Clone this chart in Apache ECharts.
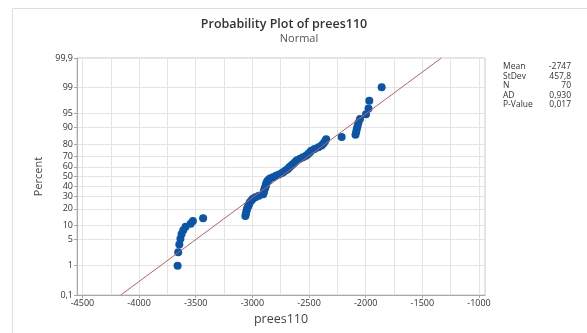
<!DOCTYPE html>
<html>
<head>
<meta charset="utf-8">
<script src="https://cdn.jsdelivr.net/npm/echarts@6/dist/echarts.min.js"></script>
<style>
  html, body { margin: 0; padding: 0; background: #fff; }
  #chart { width: 587px; height: 333px; }
</style>
</head>
<body>
<div id="chart"></div>
<script>
// sorted sample values (n = 70)
const prees110 = [
  -3660, -3655, -3645, -3635, -3625, -3610, -3590, -3545, -3525, -3435,
  -3062, -3057, -3053, -3049, -3042, -3035, -3029, -3022, -3009, -2996,
  -2973, -2943, -2905, -2901, -2898, -2894, -2890, -2885, -2881, -2878,
  -2875, -2868, -2859, -2845, -2819, -2792, -2766, -2739, -2722, -2704,
  -2686, -2676, -2663, -2649, -2633, -2620, -2607, -2580, -2554, -2527,
  -2510, -2494, -2481, -2452, -2417, -2390, -2373, -2360, -2349, -2212,
  -2090, -2084, -2079, -2072, -2064, -2050, -1997, -1975, -1968, -1859
];
const percentTicks = [0.1, 1, 5, 10, 20, 30, 40, 50, 60, 70, 80, 90, 95, 99, 99.9];
const percentLabels = ['0,1', '1', '5', '10', '20', '30', '40', '50', '60', '70', '80', '90', '95', '99', '99,9'];
const xTicks = [-4500, -4000, -3500, -3000, -2500, -2000, -1500, -1000];
const xHalfTicks = [-4250, -3750, -3250, -2750, -2250, -1750, -1250];
const statNames = ['Mean', 'StDev', 'N', 'AD', 'P-Value'];
const statValues = ['-2747', '457,8', '70', '0,930', '0,017'];
const fitMean = -2747;
const fitStDev = 457.8;

// inverse of the standard normal CDF (Acklam)
function invNorm(p) {
  const a = [-3.969683028665376e+01, 2.209460984245205e+02, -2.759285104469687e+02, 1.383577518672690e+02, -3.066479806614716e+01, 2.506628277459239e+00];
  const b = [-5.447609879822406e+01, 1.615858368580409e+02, -1.556989798598866e+02, 6.680131188771972e+01, -1.328068155288572e+01];
  const c = [-7.784894002430293e-03, -3.223964580411365e-01, -2.400758277161838e+00, -2.549732539343734e+00, 4.374664141464968e+00, 2.938163982698783e+00];
  const d = [7.784695709041462e-03, 3.224671290700398e-01, 2.445134137142996e+00, 3.754408661907416e+00];
  const pl = 0.02425;
  let q, r;
  if (p < pl) {
    q = Math.sqrt(-2 * Math.log(p));
    return (((((c[0] * q + c[1]) * q + c[2]) * q + c[3]) * q + c[4]) * q + c[5]) / ((((d[0] * q + d[1]) * q + d[2]) * q + d[3]) * q + 1);
  }
  if (p > 1 - pl) {
    q = Math.sqrt(-2 * Math.log(1 - p));
    return -(((((c[0] * q + c[1]) * q + c[2]) * q + c[3]) * q + c[4]) * q + c[5]) / ((((d[0] * q + d[1]) * q + d[2]) * q + d[3]) * q + 1);
  }
  q = p - 0.5;
  r = q * q;
  return (((((a[0] * r + a[1]) * r + a[2]) * r + a[3]) * r + a[4]) * r + a[5]) * q / (((((b[0] * r + b[1]) * r + b[2]) * r + b[3]) * r + b[4]) * r + 1);
}

const n = prees110.length;
const zTicks = percentTicks.map(p => invNorm(p / 100));
const zMin = zTicks[0];
const zMax = zTicks[zTicks.length - 1];

// median-rank plotting positions, as Minitab does
const points = prees110.map((v, i) => [v, invNorm((i + 1 - 0.3) / (n + 0.4))]);
const fitLine = [[fitMean + zMin * fitStDev, zMin], [fitMean + zMax * fitStDev, zMax]];

const gridColor = '#e4e4e4';
const axisColor = '#a8a8a8';
const font = 'Open Sans';

const chart = echarts.init(document.getElementById('chart'));
const option = {
  animation: false,
  backgroundColor: '#fff',
  textStyle: { fontFamily: font },
  grid: {
    left: 77, right: 102, top: 58, bottom: 38,
    show: true, borderColor: '#c8c8c8', borderWidth: 1
  },
  xAxis: [
    {
      type: 'value', min: -4548, max: -947,
      name: 'prees110', nameLocation: 'middle', nameGap: 18,
      nameTextStyle: { fontSize: 12.5, color: '#444', fontFamily: font },
      axisLine: { show: true, onZero: false, lineStyle: { color: axisColor } },
      axisTick: { show: true, length: 3, customValues: xTicks, lineStyle: { color: axisColor } },
      axisLabel: { customValues: xTicks, fontSize: 9, color: '#333', margin: 4, formatter: v => String(v) },
      splitLine: { show: true, lineStyle: { color: gridColor } }
    },
    {
      type: 'value', min: -4548, max: -947, position: 'bottom',
      axisLine: { show: false },
      axisTick: { show: false, customValues: xHalfTicks },
      axisLabel: { show: false, customValues: xHalfTicks },
      splitLine: { show: true, lineStyle: { color: gridColor } }
    }
  ],
  yAxis: {
    type: 'value', min: zMin, max: zMax,
    name: 'Percent', nameLocation: 'middle', nameGap: 33, nameRotate: 90,
    nameTextStyle: { fontSize: 11, color: '#444', fontFamily: font },
    axisLine: { show: true, onZero: false, lineStyle: { color: axisColor } },
    axisTick: { show: true, length: 3, customValues: zTicks, lineStyle: { color: axisColor } },
    axisLabel: {
      customValues: zTicks, fontSize: 9, color: '#333', margin: 4,
      formatter: v => {
        const k = zTicks.findIndex(z => Math.abs(z - v) < 1e-6);
        return k >= 0 ? percentLabels[k] : '';
      }
    },
    splitLine: { show: true, lineStyle: { color: gridColor } }
  },
  series: [
    {
      type: 'line', data: fitLine, symbol: 'none', silent: true,
      lineStyle: { color: '#c0605c', width: 1 }
    },
    {
      type: 'scatter', data: points, symbolSize: 8,
      itemStyle: { color: '#0b55a8', opacity: 1 }
    }
  ],
  graphic: [
    { type: 'polyline', shape: { points: [[12.5, 340], [12.5, 8.5], [590, 8.5]] }, style: { stroke: '#dedede', fill: null, lineWidth: 1 }, silent: true },
    { type: 'text', x: 284, y: 18, style: { text: 'Probability Plot of prees110', font: '600 12.5px "' + font + '"', fill: '#333', textAlign: 'center' } },
    { type: 'text', x: 299, y: 33, style: { text: 'Normal', font: '11px "' + font + '"', fill: '#555', textAlign: 'center' } }
  ].concat(
    statNames.map((s, i) => ({ type: 'text', x: 503, y: 62 + i * 9.6, style: { text: s, font: '8.5px "' + font + '"', fill: '#333' } })),
    statValues.map((s, i) => ({ type: 'text', x: 571, y: 62 + i * 9.6, style: { text: s, font: '8.5px "' + font + '"', fill: '#333', textAlign: 'right' } }))
  )
};
chart.setOption(option);
</script>
</body>
</html>
